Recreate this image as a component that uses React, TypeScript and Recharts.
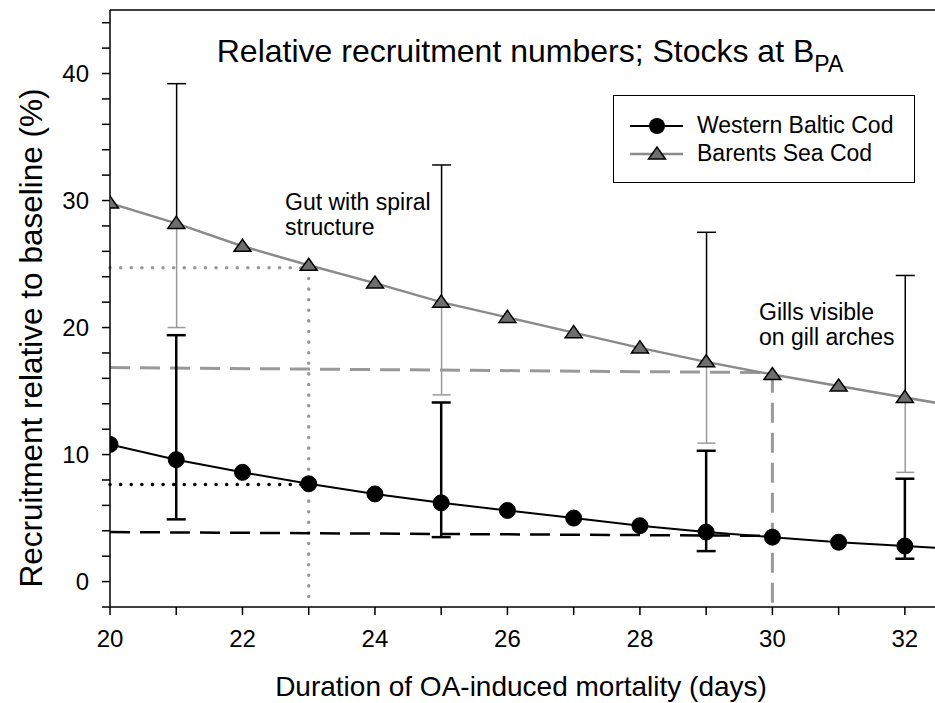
import React from "react";
import { ComposedChart, Line, Bar, XAxis, YAxis, ErrorBar, ReferenceLine, Legend } from "recharts";

const FONT = '"Liberation Sans", Arial, sans-serif';

// days on the x axis (33 only carries the lines out to the clipped right edge)
const DAYS = [20, 21, 22, 23, 24, 25, 26, 27, 28, 29, 30, 31, 32, 33];
const BALTIC = [10.8, 9.6, 8.6, 7.7, 6.9, 6.2, 5.6, 5.0, 4.4, 3.9, 3.5, 3.1, 2.8, 2.5];
const BARENTS = [29.8, 28.2, 26.4, 24.9, 23.5, 22.0, 20.8, 19.6, 18.4, 17.3, 16.3, 15.4, 14.5, 13.6];

// error bars (lower / upper bound) at a few days
const ERROR_DAYS = [21, 25, 29, 32];
const BALTIC_LOW = [4.9, 3.5, 2.4, 1.8];
const BALTIC_HIGH = [19.4, 14.1, 10.3, 8.1];
const BARENTS_LOW = [20.0, 14.7, 10.9, 8.6];
const BARENTS_HIGH = [39.2, 32.8, 27.5, 24.1];

// guide lines
const GUT_DAY = 23;
const GUT_BARENTS = 24.7;
const GUT_BALTIC = 7.65;
const GILL_DAY = 30;
const GILL_BARENTS = [16.85, 16.45];
const GILL_BALTIC = [3.9, 3.6];

const X_TICKS = [20, 21, 22, 23, 24, 25, 26, 27, 28, 29, 30, 31, 32];
const Y_TICKS = [-2, 0, 2, 4, 6, 8, 10, 12, 14, 16, 18, 20, 22, 24, 26, 28, 30, 32, 34, 36, 38, 40, 42, 44];

const SERIES_NAMES = ["Western Baltic Cod", "Barents Sea Cod"];

const data = DAYS.map((day, i) => {
  const k = ERROR_DAYS.indexOf(day);
  return {
    day,
    baltic: BALTIC[i],
    barents: BARENTS[i],
    balticErr: k < 0 ? undefined : [BALTIC[i] - BALTIC_LOW[k], BALTIC_HIGH[k] - BALTIC[i]],
    barentsRange: k < 0 ? undefined : [BARENTS_LOW[k], BARENTS_HIGH[k]],
  };
});

// Barents error bar: grey below the mean, black above it (drawn inside the bar's own rect)
const SplitErrorBar = (props: any) => {
  const { x, y, width, height, payload } = props;
  const range = payload && payload.barentsRange;
  if (!range || x == null || y == null) return <g />;
  const top = Math.min(y, y + height);
  const h = Math.abs(height);
  const [lo, hi] = range;
  const mid = top + (h * (hi - payload.barents)) / (hi - lo);
  const cx = x + width / 2;
  const bottom = top + h;
  return (
    <g>
      <line x1={cx} x2={cx} y1={mid} y2={bottom} stroke="#9a9a9a" strokeWidth={1.5} />
      <line x1={cx - 9} x2={cx + 9} y1={bottom} y2={bottom} stroke="#9a9a9a" strokeWidth={1.5} />
      <line x1={cx} x2={cx} y1={top} y2={mid} stroke="#000" strokeWidth={1.5} />
      <line x1={cx - 9.5} x2={cx + 9.5} y1={top} y2={top} stroke="#000" strokeWidth={1.5} />
    </g>
  );
};

const Triangle = (props: any) => {
  const { cx, cy, index } = props;
  if (cx == null || cy == null) return <g key={index} />;
  return (
    <polygon
      key={index}
      points={`${cx - 8.5},${cy + 5} ${cx + 8.5},${cy + 5} ${cx},${cy - 7}`}
      fill="#6e6e6e"
      stroke="#000"
      strokeWidth={1.5}
    />
  );
};

function LegendBox() {
  return (
    <div
      style={{
        position: "relative",
        width: 302,
        height: 88,
        border: "1.5px solid #000",
        boxSizing: "border-box",
        background: "#fff",
        fontFamily: FONT,
        fontSize: 23,
        color: "#000",
      }}
    >
      <svg width={80} height={88} style={{ position: "absolute", left: 0, top: 0 }}>
        <line x1={16} x2={69} y1={30} y2={30} stroke="#000" strokeWidth={2} />
        <circle cx={43} cy={30} r={8} fill="#000" />
        <line x1={16} x2={69} y1={58} y2={58} stroke="#8a8a8a" strokeWidth={2.5} />
        <polygon points="34.5,63 51.5,63 43,51" fill="#6e6e6e" stroke="#000" strokeWidth={1.5} />
      </svg>
      <div style={{ position: "absolute", left: 83, top: 16, whiteSpace: "nowrap" }}>{SERIES_NAMES[0]}</div>
      <div style={{ position: "absolute", left: 83, top: 44, whiteSpace: "nowrap" }}>{SERIES_NAMES[1]}</div>
    </div>
  );
}

export default function App() {
  const tickStyle = { fill: "#000", fontSize: 24, fontFamily: FONT };
  return (
    <div
      style={{
        position: "absolute",
        left: 0,
        top: 0,
        width: 935,
        height: 703,
        overflow: "hidden",
        background: "#fff",
      }}
    >
      <ComposedChart width={940} height={703} data={data} margin={{ top: 10, right: 2, bottom: 0, left: 0 }}>
        <XAxis
          dataKey="day"
          type="number"
          domain={[20, 32.5]}
          allowDataOverflow
          ticks={X_TICKS}
          interval={0}
          tickFormatter={(v: number) => (v % 2 === 0 ? String(v) : "")}
          height={96}
          tickSize={8}
          tickMargin={15}
          stroke="#000"
          strokeWidth={1.5}
          tick={tickStyle}
        />
        <YAxis
          type="number"
          domain={[-2, 45]}
          allowDataOverflow
          ticks={Y_TICKS}
          interval={0}
          tickFormatter={(v: number) => (v % 10 === 0 ? String(v) : "")}
          width={110}
          tickSize={8}
          tickMargin={13}
          stroke="#000"
          strokeWidth={1.5}
          tick={tickStyle}
        />
        <ReferenceLine y={45} stroke="#000" strokeWidth={1.5} />

        <ReferenceLine
          segment={[{ x: 20, y: GUT_BARENTS }, { x: GUT_DAY, y: GUT_BARENTS }]}
          stroke="#999"
          strokeWidth={3.5}
          strokeDasharray="0.1 10.5"
          strokeLinecap="round"
        />
        <ReferenceLine
          segment={[{ x: GUT_DAY, y: GUT_BARENTS }, { x: GUT_DAY, y: -2 }]}
          stroke="#999"
          strokeWidth={3.5}
          strokeDasharray="0.1 10.5"
          strokeLinecap="round"
        />
        <ReferenceLine
          segment={[{ x: 20, y: GUT_BALTIC }, { x: GUT_DAY, y: GUT_BALTIC }]}
          stroke="#000"
          strokeWidth={3.5}
          strokeDasharray="0.1 10.5"
          strokeLinecap="round"
        />
        <ReferenceLine
          segment={[{ x: 20, y: GILL_BARENTS[0] }, { x: GILL_DAY, y: GILL_BARENTS[1] }]}
          stroke="#999"
          strokeWidth={3}
          strokeDasharray="20 10"
        />
        <ReferenceLine
          segment={[{ x: GILL_DAY, y: GILL_BARENTS[1] }, { x: GILL_DAY, y: -2 }]}
          stroke="#999"
          strokeWidth={3}
          strokeDasharray="20 10"
        />
        <ReferenceLine
          segment={[{ x: 20, y: GILL_BALTIC[0] }, { x: GILL_DAY, y: GILL_BALTIC[1] }]}
          stroke="#000"
          strokeWidth={2.5}
          strokeDasharray="20 10"
        />

        <Bar
          dataKey="barentsRange"
          barSize={19}
          shape={SplitErrorBar}
          fill="none"
          activeBar={false}
          legendType="none"
          isAnimationActive={false}
        />
        <Line
          dataKey="barents"
          name={SERIES_NAMES[1]}
          stroke="#8a8a8a"
          strokeWidth={2.5}
          dot={Triangle}
          activeDot={false}
          isAnimationActive={false}
        />
        <Line
          dataKey="baltic"
          name={SERIES_NAMES[0]}
          stroke="#000"
          strokeWidth={2}
          dot={{ r: 8, fill: "#000", stroke: "#000", strokeWidth: 1 }}
          activeDot={false}
          isAnimationActive={false}
        >
          <ErrorBar
            dataKey="balticErr"
            direction="y"
            width={9.5}
            stroke="#000"
            strokeWidth={2.5}
            isAnimationActive={false}
          />
        </Line>
        <Legend
          layout="vertical"
          align="center"
          verticalAlign="middle"
          content={() => <LegendBox />}
          wrapperStyle={{ left: 613, top: 95, width: 302, height: 88 }}
        />
      </ComposedChart>

      <svg
        width={935}
        height={703}
        style={{ position: "absolute", left: 0, top: 0, pointerEvents: "none" }}
        fontFamily={FONT}
        fill="#000"
      >
        <text x={530} y={62} fontSize={32} textAnchor="middle">
          Relative recruitment numbers; Stocks at B
          <tspan fontSize={23} dy={10}>PA</tspan>
        </text>
        <text x={285} y={210} fontSize={23}>Gut with spiral</text>
        <text x={285} y={235} fontSize={23}>structure</text>
        <text x={759} y={320} fontSize={23}>Gills visible</text>
        <text x={759} y={345} fontSize={23}>on gill arches</text>
        <text x={521} y={696} fontSize={28} textAnchor="middle">
          Duration of OA-induced mortality (days)
        </text>
        <text x={42} y={338} fontSize={31.5} textAnchor="middle" transform="rotate(-90 42 338)">
          Recruitment relative to baseline (%)
        </text>
      </svg>
    </div>
  );
}
